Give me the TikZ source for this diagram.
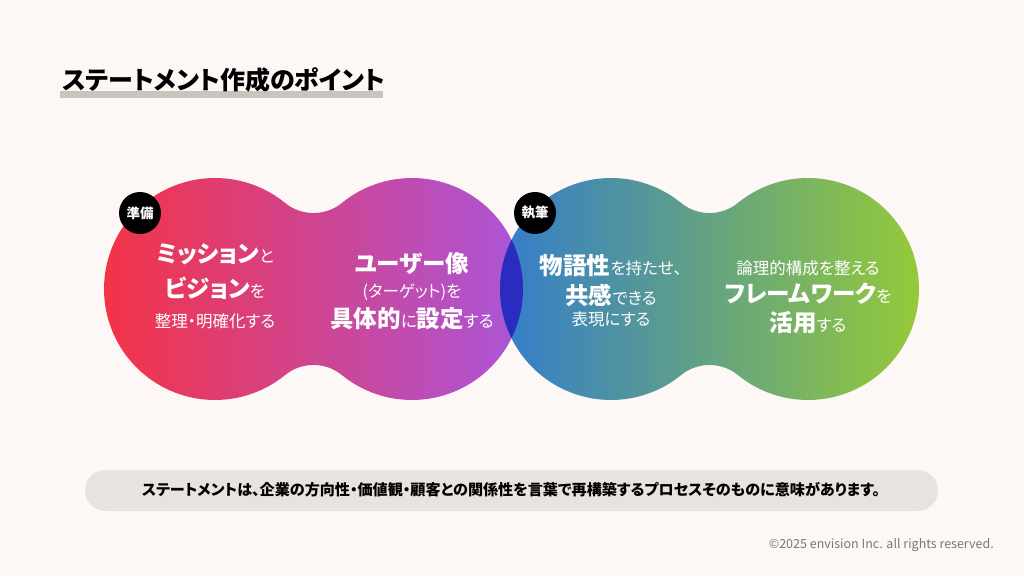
\documentclass[tikz,border=0pt]{standalone}
\usepackage{fontspec}
\setmainfont{Noto Sans CJK JP}[RawFeature=+palt]
\usepackage{xcolor}
\usepackage{tikz}
\usetikzlibrary{positioning}
\definecolor{bgpaper}{RGB}{253,248,246}
\definecolor{blobred}{RGB}{246,50,66}
\definecolor{blobpink}{RGB}{210,71,154}
\definecolor{blobviolet}{RGB}{168,87,222}
\definecolor{blobblue}{RGB}{48,122,208}
\definecolor{blobteal}{RGB}{78,154,136}
\definecolor{blobgreen}{RGB}{152,204,52}
\definecolor{lensblue}{RGB}{42,44,192}
\definecolor{barfill}{RGB}{233,227,223}
\definecolor{titlebar}{RGB}{200,196,190}
\definecolor{copytext}{RGB}{120,120,120}
\newcommand{\pbig}[1]{{\fontsize{23.5}{28}\selectfont\bfseries #1}}
\tikzset{
  pointtext/.style={text=white, anchor=base, inner sep=0pt, font=\fontsize{16.5}{20}\selectfont},
  badge/.style={circle, fill=black, text=white, minimum size=42pt, inner sep=0pt, font=\fontsize{13.5}{16}\selectfont\bfseries},
}

\begin{document}
\begin{tikzpicture}[x=1pt,y=1pt]
\useasboundingbox[fill=bgpaper] (0,0) rectangle (1024,576);
% title
\fill[titlebar] (60,478) rectangle (383,485);
\node[anchor=west, inner sep=0pt, font=\fontsize{25}{30}\selectfont\bfseries] (title) at (62,496) {ステートメント作成のポイント};
% blobs
\foreach \cx/\lc/\mc/\rc in {215/blobred/blobpink/blobviolet, 611/blobblue/blobteal/blobgreen}
  \shade[left color=\lc, middle color=\mc, right color=\rc]
    (\cx,287) ++(50.84:111) arc[start angle=50.84, end angle=309.16, radius=111]
    arc[start angle=129.16, end angle=50.84, radius=45]
    arc[start angle=230.84, end angle=489.16, radius=111]
    arc[start angle=309.16, end angle=230.84, radius=45] -- cycle;
\begin{scope}
  \clip (412,287) circle[radius=111];
  \fill[lensblue] (611,287) circle[radius=111];
\end{scope}
% badges
\node[badge] (prep) at (140,363) {準備};
\node[badge] (write) at (535,363) {執筆};
% texts
\node[pointtext] (mission) at (215,313) {\pbig{ミッション}と};
\node[pointtext] (vision) at (215,278) {\pbig{ビジョン}を};
\node[pointtext] (clarify) at (215,248) {整理・明確化する};
\node[pointtext] (persona) at (412,303) {\pbig{ユーザー像}};
\node[pointtext] (target) at (412,278) {(ターゲット)を};
\node[pointtext] (define) at (412,249) {\pbig{具体的}に\pbig{設定}する};
\node[pointtext] (story) at (611,301) {\pbig{物語性}を持たせ、};
\node[pointtext] (empathy) at (611,272) {\pbig{共感}できる};
\node[pointtext] (express) at (611,251) {表現にする};
\node[pointtext] (logic) at (808,301) {論理的構成を整える};
\node[pointtext] (framework) at (808,273) {\pbig{フレームワーク}を};
\node[pointtext] (apply) at (808,245) {\pbig{活用}する};
% summary bar
\fill[barfill, rounded corners=20.5pt] (85,65) rectangle (938,106);
\node[inner sep=0pt, font=\fontsize{15.1}{18}\selectfont\bfseries] (summary) at (511,86) {ステートメントは、企業の方向性・価値観・顧客との関係性を言葉で再構築するプロセスそのものに意味があります。};
\node[anchor=east, inner sep=0pt, text=copytext, font=\fontsize{12.5}{15}\selectfont] (copyright) at (994,31) {©2025 envision Inc. all rights reserved.};
\end{tikzpicture}
\end{document}
